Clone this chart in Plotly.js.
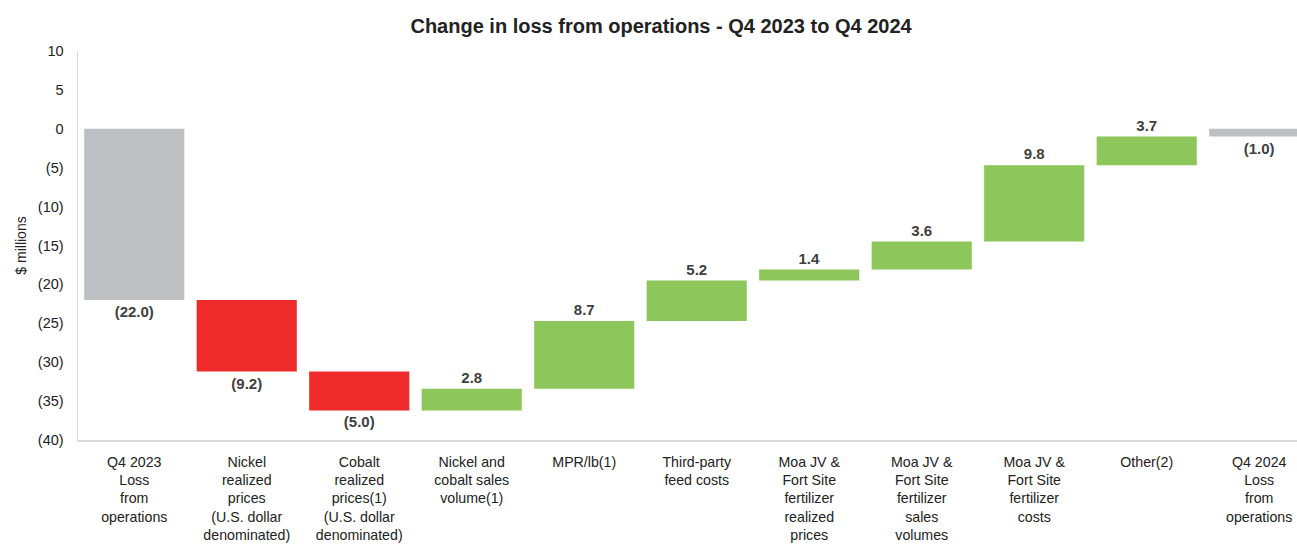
<!DOCTYPE html>
<html>
<head>
<meta charset="utf-8">
<script src="https://cdn.plot.ly/plotly-3.0.1.min.js"></script>
<style>html,body{margin:0;padding:0;background:#fff;overflow:hidden}#chart{width:1297px;height:544px}</style>
</head>
<body>
<div id="chart"></div>
<script>
const categories = [
  "Q4 2023<br>Loss<br>from<br>operations",
  "Nickel<br>realized<br>prices<br>(U.S. dollar<br>denominated)",
  "Cobalt<br>realized<br>prices(1)<br>(U.S. dollar<br>denominated)",
  "Nickel and<br>cobalt sales<br>volume(1)",
  "MPR/lb(1)",
  "Third-party<br>feed costs",
  "Moa JV &<br>Fort Site<br>fertilizer<br>realized<br>prices",
  "Moa JV &<br>Fort Site<br>fertilizer<br>sales<br>volumes",
  "Moa JV &<br>Fort Site<br>fertilizer<br>costs",
  "Other(2)",
  "Q4 2024<br>Loss<br>from<br>operations"
];
const values = [-22.0, -9.2, -5.0, 2.8, 8.7, 5.2, 1.4, 3.6, 9.8, 3.7, -1.0];
const measures = ["absolute","relative","relative","relative","relative","relative","relative","relative","relative","relative","total"];
const yTicks = [10, 5, 0, -5, -10, -15, -20, -25, -30, -35, -40];

const fmtVal = v => v < 0 ? "(" + Math.abs(v).toFixed(1) + ")" : v.toFixed(1);
const fmtTick = v => v < 0 ? "(" + Math.abs(v) + ")" : String(v);

const trace = {
  type: "waterfall",
  x: categories,
  y: values,
  measure: measures,
  text: values.map(fmtVal),
  textposition: "outside",
  textfont: {family: "Liberation Sans, Arial, sans-serif", size: 15, color: "#404040", weight: "bold"},
  cliponaxis: false,
  increasing: {marker: {color: "#8DC65A"}},
  decreasing: {marker: {color: "#EE2A2A"}},
  totals: {marker: {color: "#BEBFC3"}},
  connector: {visible: false},
  hoverinfo: "none"
};

const layout = {
  width: 1297,
  height: 544,
  margin: {l: 78, r: 0, t: 51, b: 104},
  paper_bgcolor: "#fff",
  plot_bgcolor: "#fff",
  showlegend: false,
  waterfallgap: 0.11,
  font: {family: "Liberation Sans, Arial, sans-serif", size: 14, color: "#333"},
  title: {
    text: "<b>Change in loss from operations - Q4 2023 to Q4 2024</b>",
    font: {family: "Liberation Sans, Arial, sans-serif", size: 20, color: "#222"},
    x: 0.5097, xanchor: "center", y: 0.953, yanchor: "middle"
  },
  xaxis: {
    type: "category",
    range: [-0.5, 10.336],
    showline: true, linecolor: "#d9d9d9", linewidth: 1.5,
    showgrid: false, zeroline: false, ticks: "",
    tickfont: {size: 14.2, color: "#222"},
    tickangle: 0,
    ticklabelstandoff: 8,
    automargin: false
  },
  yaxis: {
    range: [-40, 10],
    tickvals: yTicks,
    ticktext: yTicks.map(fmtTick),
    showline: true, linecolor: "#d9d9d9", linewidth: 1.5,
    showgrid: false, zeroline: false, ticks: "",
    ticklabelstandoff: 10,
    tickfont: {size: 14.5, color: "#222"},
    title: {text: "$ millions", font: {size: 14, color: "#222"}, standoff: 8},
    automargin: false
  }
};

Plotly.newPlot("chart", [trace], layout, {displayModeBar: false, staticPlot: true});
</script>
</body>
</html>
